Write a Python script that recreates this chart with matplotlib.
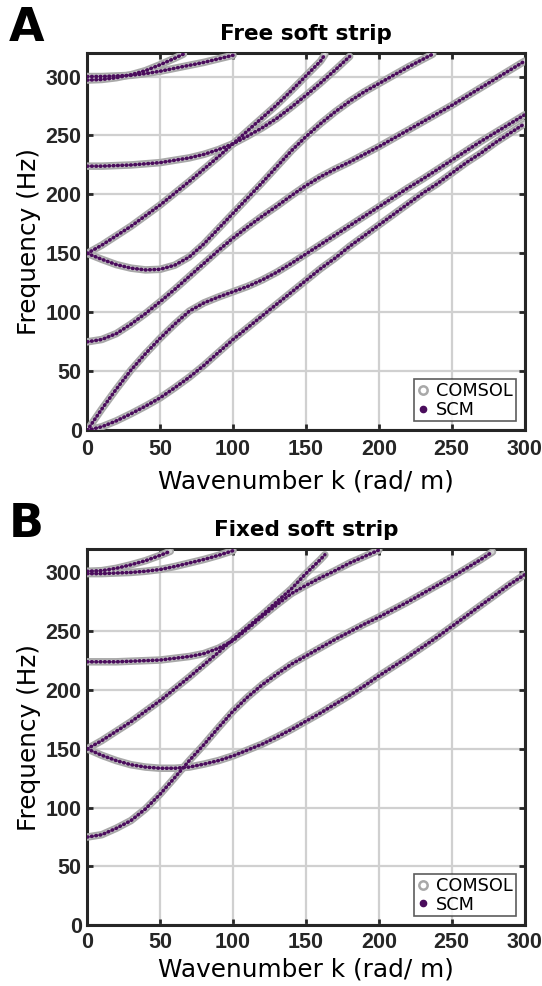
import matplotlib
matplotlib.use("Agg")
import matplotlib.pyplot as plt
from matplotlib.lines import Line2D

# wavenumber grids (rad/m)
K_300 = [0, 10, 20, 30, 40, 50, 60, 70, 80, 90, 100, 110, 120, 130, 140, 150,
         160, 170, 180, 190, 200, 210, 220, 230, 240, 250, 260, 270, 280, 290, 300]
K_100 = [0, 10, 20, 30, 40, 50, 60, 70, 80, 90, 100]

# ---- free soft strip (Hz) ----
free_k1 = K_300
free_f1 = [0, 3, 8, 14, 20.5, 27.5, 36, 45, 55, 66, 77, 87, 97, 107, 117, 127,
           137, 146, 156, 165, 174, 183, 192, 201, 209, 218, 227, 235, 244, 252, 260]
free_k2 = K_300
free_f2 = [0, 18, 35, 51, 65, 78, 90, 101, 108, 113, 117.5, 122, 127.5, 134, 141.5, 149.5,
           157.5, 165.5, 173.5, 181.5, 189.5, 197.5, 205.5, 213, 221, 229, 237, 245, 252.5, 260, 267.5]
free_k3 = K_300
free_f3 = [75, 77, 82, 90, 99, 109, 119.5, 130.5, 141.5, 152.5, 163, 172.5, 181.5, 190, 199, 207.5,
           215, 221.5, 227.5, 234, 240.5, 247.5, 254.5, 261.5, 268.5, 275.5, 283, 290.5, 298, 305.5, 313]
free_k4 = [0, 10, 20, 30, 40, 50, 60, 70, 80, 90, 100, 110, 120, 130, 140, 150,
           160, 170, 180, 190, 200, 210, 220, 230, 237]
free_f4 = [150, 145, 140.5, 137.5, 136, 136.5, 140, 147, 158, 171, 184, 197, 210, 223.5, 237, 249,
           260, 270, 279, 287, 294, 301, 308, 314.5, 319]
free_k5 = [0, 10, 20, 30, 40, 50, 60, 70, 80, 90, 100, 110, 120, 130, 140, 150, 160, 163]
free_f5 = [150, 157, 165, 173, 182, 191, 201, 211, 221.5, 232, 243, 254, 265, 276, 288, 300.5, 313, 318.5]
free_k6 = [0, 10, 20, 30, 40, 50, 60, 70, 80, 90, 100, 110, 120, 130, 140, 150, 160, 170, 180]
free_f6 = [224, 224, 224.5, 225, 226, 227, 229, 231, 234, 238, 243, 249.5, 256.5, 264.5, 274, 284,
           294.5, 305.5, 317]
free_k7 = [0, 10, 20, 30, 40, 50, 60, 66]
free_f7 = [297, 297.5, 299, 301.5, 305, 310, 315.5, 319]
free_k8 = K_100
free_f8 = [300, 300, 300.5, 301, 302.5, 304.5, 307, 309.5, 312, 315, 318]

# ---- fixed soft strip (Hz) ----
fix_k1 = [0, 10, 20, 30, 40, 50, 60, 70, 80, 90, 100, 110, 120, 130, 140, 150,
          160, 170, 180, 190, 200, 210, 220, 230, 240, 250, 260, 270, 278]
fix_f1 = [75, 77, 82.5, 89, 99, 111.5, 125.5, 140, 153.5, 168, 182, 194, 204.5, 213.5, 222, 229,
          236, 243, 249.5, 256, 262, 268.5, 275, 282, 289, 296, 303.5, 311, 317.5]
fix_k2 = K_300
fix_f2 = [150, 144.5, 140, 136.5, 134.5, 133.5, 133.5, 134.5, 137, 140, 144, 149, 154, 160, 166.5, 173.5,
          180.5, 188, 195.5, 203.5, 212, 220, 228, 236.5, 245, 254, 263, 272, 281, 290, 298]
fix_k3 = [0, 10, 20, 30, 40, 50, 60, 70, 80, 90, 100, 110, 120, 130, 140, 150, 160, 163]
fix_f3 = [150, 157, 165, 173, 182, 191, 201, 211, 221.5, 232, 243, 253.5, 264, 275, 286, 299, 311, 315]
fix_k4 = [0, 10, 20, 30, 40, 50, 60, 70, 80, 90, 100, 110, 120, 130, 140, 150, 160, 170, 180, 190, 200]
fix_f4 = [224, 224, 224, 224.5, 225, 225.5, 227, 228.5, 231, 235.5, 242, 252, 262.5, 272.5, 282, 289,
          295.5, 301.5, 308, 313.5, 319]
fix_k5 = [0, 10, 20, 30, 40, 50, 57]
fix_f5 = [301, 301.5, 303.5, 306.5, 310, 314.5, 318]
fix_k6 = K_100
fix_f6 = [299, 299, 299.5, 300, 301, 302.5, 305, 308, 311, 314.5, 318.5]

free_branches = [(free_k1, free_f1), (free_k2, free_f2), (free_k3, free_f3), (free_k4, free_f4),
                 (free_k5, free_f5), (free_k6, free_f6), (free_k7, free_f7), (free_k8, free_f8)]
fixed_branches = [(fix_k1, fix_f1), (fix_k2, fix_f2), (fix_k3, fix_f3),
                  (fix_k4, fix_f4), (fix_k5, fix_f5), (fix_k6, fix_f6)]

purple = "#4a0c5c"
gray = "#a8a8a8"
dark = "#262626"


def draw_panel(ax, branches, title, xpad, xlabelpad):
    for k, f in branches:
        # COMSOL: grey rings, SCM: purple dots on top
        ax.plot(k, f, color=gray, lw=5.4, solid_capstyle="round", zorder=3)
        ax.plot(k, f, color="#d2d2d2", lw=2.8, solid_capstyle="round", zorder=4)
        ax.plot(k, f, color=purple, lw=2.6, linestyle=(0, (0.2, 1.0)),
                dash_capstyle="round", zorder=5)

    ax.set_xlim(0, 300)
    ax.set_ylim(0, 320)
    ax.set_xticks([0, 50, 100, 150, 200, 250, 300])
    ax.set_yticks([0, 50, 100, 150, 200, 250, 300])
    ax.grid(True, color="#d0d0d0", lw=1.6, zorder=0)
    ax.set_axisbelow(True)
    for s in ax.spines.values():
        s.set_linewidth(2.2)
        s.set_color(dark)
    ax.tick_params(direction="in", length=4, width=2, color=dark,
                   top=True, right=True, pad=4, labelcolor=dark)
    ax.tick_params(axis="x", pad=xpad)
    for lab in ax.get_xticklabels() + ax.get_yticklabels():
        lab.set_fontfamily("Liberation Sans")
        lab.set_fontweight("bold")
        lab.set_fontsize(15.5)

    ax.set_title(title, fontweight="bold", fontsize=15.5, pad=9, color="black")
    ax.set_xlabel("Wavenumber k (rad/ m)", fontsize=17.8, labelpad=xlabelpad, color="black")
    ax.set_ylabel("Frequency (Hz)", fontsize=17.8, labelpad=3, color="black")

    handles = [
        Line2D([], [], marker="o", ls="none", mfc="none", mec=gray, mew=1.8, ms=6),
        Line2D([], [], marker="o", ls="none", color=purple, ms=4.5),
    ]
    leg = ax.legend(handles, ["COMSOL", "SCM"], loc="lower right", fontsize=12.8,
                    frameon=True, fancybox=False, edgecolor="#333333",
                    borderaxespad=0.5, labelspacing=0.05, handlelength=0.7,
                    handletextpad=0.4, borderpad=0.15)
    leg.get_frame().set_linewidth(1.2)
    leg.set_zorder(10)


fig = plt.figure(figsize=(5.42, 9.86), dpi=100)
ax1 = fig.add_axes([0.1609, 0.5636, 0.807, 0.3827])
ax2 = fig.add_axes([0.1609, 0.0616, 0.807, 0.3817])

draw_panel(ax1, free_branches, "Free soft strip", 6, 7)
draw_panel(ax2, fixed_branches, "Fixed soft strip", 5, 3)

fig.text(0.016, 0.971, "A", fontsize=33, fontweight="heavy", va="center", ha="left")
fig.text(0.016, 0.468, "B", fontsize=33, fontweight="heavy", va="center", ha="left")

fig.savefig("out.png", dpi=100)
